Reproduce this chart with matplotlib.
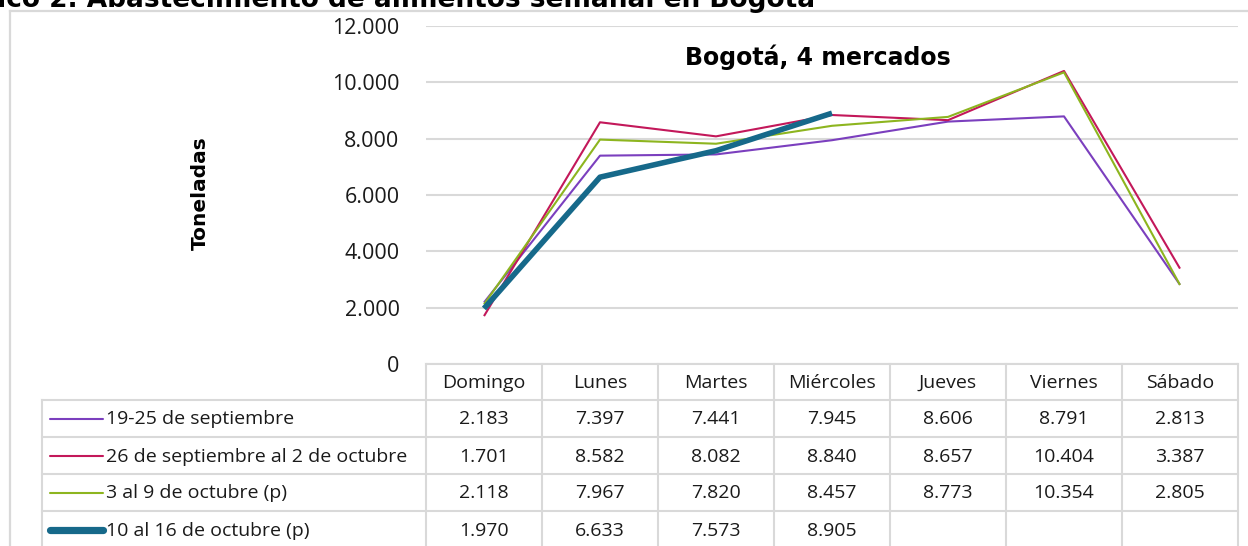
import matplotlib
matplotlib.use("Agg")
import matplotlib.pyplot as plt

# ---------------- data ----------------
days = ["Domingo", "Lunes", "Martes", "Miércoles", "Jueves", "Viernes", "Sábado"]
series_names = ["19-25 de septiembre",
                "26 de septiembre al 2 de octubre",
                "3 al 9 de octubre (p)",
                "10 al 16 de octubre (p)"]
week1 = [2183, 7397, 7441, 7945, 8606, 8791, 2813]
week2 = [1701, 8582, 8082, 8840, 8657, 10404, 3387]
week3 = [2118, 7967, 7820, 8457, 8773, 10354, 2805]
week4 = [1970, 6633, 7573, 8905]
y_ticks = [0, 2000, 4000, 6000, 8000, 10000, 12000]
y_tick_labels = ["0", "2.000", "4.000", "6.000", "8.000", "10.000", "12.000"]
title = "Gráfico 2. Abastecimiento de alimentos semanal en Bogotá"
subtitle = "Bogotá, 4 mercados"
y_label = "Toneladas"

colors = ["#7B3FBE", "#C3185A", "#8DB51F", "#16698A"]
widths = [1.5, 1.5, 1.5, 4.0]

W, H = 1248, 546
GRID = "#D9D9D9"
FONT = "Open Sans"
TXT = "#1a1a1a"

fig = plt.figure(figsize=(W / 100, H / 100), dpi=100)

def fx(px):
    return px / W

def fy(py):
    return 1 - py / H

# ---------------- line chart ----------------
x_left, x_right, y_top, y_bot = 426, 1238, 26, 364
ax = fig.add_axes([fx(x_left), fy(y_bot), fx(x_right) - fx(x_left), fy(y_top) - fy(y_bot)])
ax.set_xlim(-0.5, len(days) - 0.5)
ax.set_ylim(0, 12000)
ax.set_yticks(y_ticks)
ax.set_yticklabels(y_tick_labels, fontsize=15.5, family=FONT, color=TXT)
ax.set_xticks([])
ax.tick_params(axis="y", length=0, pad=19)
for s in ax.spines.values():
    s.set_visible(False)
ax.grid(axis="y", color=GRID, linewidth=1.5)
ax.set_axisbelow(True)
ax.patch.set_alpha(0)

all_series = [week1, week2, week3, week4]
for i, vals in enumerate(all_series):
    ax.plot(range(len(vals)), vals, color=colors[i], linewidth=widths[i],
            solid_capstyle="butt", zorder=3 + i)

fig.text(fx(818), fy(57), subtitle, ha="center", va="center",
         fontsize=17, weight="bold", family="DejaVu Sans")

fig.text(fx(200), fy(193), y_label, rotation=90, ha="center", va="center",
         fontsize=14.5, weight="bold", family="DejaVu Sans")

fig.text(fx(815), fy(7), title, ha="right", va="baseline",
         fontsize=19, weight="bold", family="DejaVu Sans")

# ---------------- overlay for frame ----------------
ov = fig.add_axes([0, 0, 1, 1], zorder=-1)
ov.set_xlim(0, W)
ov.set_ylim(H, 0)
ov.axis("off")
ov.patch.set_alpha(0)
ov.plot([10, W + 5], [11, 11], color=GRID, lw=1.6)
ov.plot([10, 10], [11, H + 5], color=GRID, lw=1.6)

# ---------------- data table ----------------
ov2 = fig.add_axes([0, 0, 1, 1], zorder=5)
ov2.set_xlim(0, W)
ov2.set_ylim(H, 0)
ov2.axis("off")
ov2.patch.set_alpha(0)

col_w = (x_right - x_left) / len(days)
col_edges = [x_left + k * col_w for k in range(len(days) + 1)]
row_edges = [364, 400, 437, 474, 511, 548]
tbl_left = 42
lw_t = 1.5

ov2.plot([x_left, x_right], [row_edges[0]] * 2, color=GRID, lw=lw_t)
for r in row_edges[1:]:
    ov2.plot([tbl_left, x_right], [r, r], color=GRID, lw=lw_t)
ov2.plot([tbl_left, tbl_left], [row_edges[1], H + 5], color=GRID, lw=lw_t)
for c in col_edges:
    ov2.plot([c, c], [row_edges[0], H + 5], color=GRID, lw=lw_t)

for j, d in enumerate(days):
    ov2.text((col_edges[j] + col_edges[j + 1]) / 2, (row_edges[0] + row_edges[1]) / 2 + 1, d,
             ha="center", va="center", fontsize=14, family=FONT, color=TXT)

def fmt(v):
    return f"{v:,}".replace(",", ".")

for i, vals in enumerate(all_series):
    yc = (row_edges[i + 1] + row_edges[i + 2]) / 2
    ov2.plot([50, 103], [yc, yc], color=colors[i], lw=widths[i] * 1.3 if i == 3 else widths[i],
             solid_capstyle="round")
    ov2.text(106, yc + 1, series_names[i], ha="left", va="center", fontsize=14,
             family=FONT, color=TXT)
    for j, v in enumerate(vals):
        ov2.text((col_edges[j] + col_edges[j + 1]) / 2, yc + 1, fmt(v), ha="center",
                 va="center", fontsize=14, family=FONT, color=TXT)

fig.savefig("out.png", dpi=100)
